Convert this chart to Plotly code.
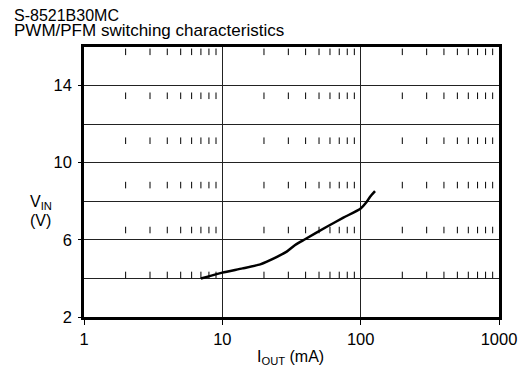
import plotly.graph_objects as go

# ---- data ----
iout_ma = [7, 10, 14, 18.8, 21, 29.2, 33.6, 39.6, 56.9, 75, 100, 110, 117, 127]
vin_v = [4.0, 4.3, 4.52, 4.73, 4.87, 5.39, 5.73, 6.03, 6.68, 7.15, 7.63, 7.95, 8.24, 8.53]

x_tick_vals = [1, 10, 100, 1000]
x_tick_text = ["1", "10", "100", "1000"]
y_tick_vals = [2, 6, 10, 14]
y_tick_text = ["2", "6", "10", "14"]
y_grid_vals = [4, 8, 12]

# decorative minor-tick dashes inside the plot
minor_x = [2, 3, 4, 5, 6, 7, 8, 9, 20, 30, 40, 50, 60, 70, 80, 90,
           200, 300, 400, 500, 600, 700, 800, 900]
dash_bottoms = [4.01, 6.34, 8.67, 10.97, 13.30, 15.58]
dash_len = 0.34

FONT = "Liberation Sans, Arial, sans-serif"

dx, dy = [], []
for yb in dash_bottoms:
    for xv in minor_x:
        dx += [xv, xv, None]
        dy += [yb, yb + dash_len, None]

fig = go.Figure()
fig.add_trace(go.Scatter(x=dx, y=dy, mode="lines",
                         line=dict(color="black", width=1),
                         hoverinfo="skip", showlegend=False))
fig.add_trace(go.Scatter(x=iout_ma, y=vin_v, mode="lines",
                         line=dict(color="black", width=2.5, shape="spline", smoothing=0.6),
                         showlegend=False))

L, R, T, B = 84, 32, 47, 56
W, H = 531, 373
pw = W - L - R
ph = H - T - B

def px(x):
    return (x - L) / pw

def py(y):
    return (H - B - y) / ph

fig.update_layout(
    width=W, height=H,
    margin=dict(l=L, r=R, t=T, b=B, pad=0, autoexpand=False),
    paper_bgcolor="white", plot_bgcolor="white",
    font=dict(family=FONT, color="black", size=16),
    showlegend=False,
    xaxis=dict(type="log", range=[0, 3], tickvals=x_tick_vals, ticktext=x_tick_text,
               showgrid=True, gridcolor="#222", gridwidth=1,
               showline=True, linecolor="black", linewidth=2.5, mirror=True,
               ticks="outside", ticklen=5, tickwidth=1, tickcolor="black",
               tickfont=dict(size=16.5), zeroline=False),
    yaxis=dict(range=[2, 16], tickvals=y_tick_vals, ticktext=y_tick_text,
               showgrid=True, gridcolor="#222", gridwidth=1,
               minor=dict(tickvals=y_grid_vals, showgrid=True, gridcolor="#222",
                          gridwidth=1, ticks=""),
               showline=True, linecolor="black", linewidth=2.5, mirror=True,
               ticks="outside", ticklen=3, tickwidth=1, tickcolor="black",
               ticklabelstandoff=3,
               tickfont=dict(size=16.5), zeroline=False),
)

ann = [
    dict(text="S-8521B30MC", x=px(12), y=py(15), xanchor="left", yanchor="middle", size=16),
    dict(text="PWM/PFM switching characteristics", x=px(12), y=py(31), xanchor="left", yanchor="middle", size=17),
    dict(text="V<sub>IN</sub>", x=px(41), y=py(203), xanchor="center", yanchor="middle", size=16),
    dict(text="(V)", x=px(40), y=py(221), xanchor="center", yanchor="middle", size=16),
    dict(text="I<sub>OUT</sub> (mA)", x=px(290), y=py(357), xanchor="center", yanchor="middle", size=16),
]
for a in ann:
    fig.add_annotation(text=a["text"], x=a["x"], y=a["y"], xref="paper", yref="paper",
                       xanchor=a["xanchor"], yanchor=a["yanchor"], showarrow=False,
                       font=dict(family=FONT, size=a["size"], color="black"))

fig.write_html("out.html", config={"displayModeBar": False},
               post_script="document.body.style.margin='0';document.body.style.overflow='hidden';")
